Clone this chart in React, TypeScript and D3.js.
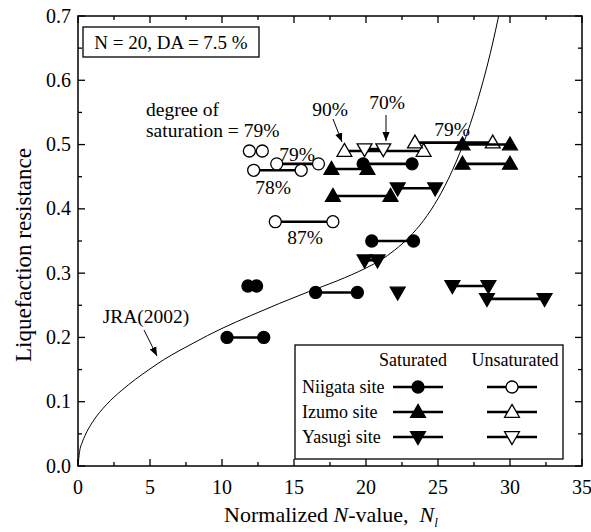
import React from 'react';
import * as d3 from 'd3';

const W = 591;
const H = 532;

const xTickValues = [0, 5, 10, 15, 20, 25, 30, 35];
const yTickValues = [0, 0.1, 0.2, 0.3, 0.4, 0.5, 0.6, 0.7];

// segments: [x1, x2, y]
const satNiigata: number[][] = [
  [10.35, 12.9, 0.2],
  [11.8, 12.4, 0.28],
  [16.5, 19.4, 0.27],
  [20.4, 23.3, 0.35],
  [19.8, 23.2, 0.47],
];
const satIzumo: number[][] = [
  [17.6, 20.1, 0.462],
  [17.7, 21.7, 0.42],
  [26.7, 30.0, 0.5],
  [26.7, 30.0, 0.47],
];
const satYasugi: number[][] = [
  [22.2, 24.8, 0.432],
  [19.9, 20.8, 0.32],
  [22.2, 22.2, 0.27],
  [26.0, 28.5, 0.28],
  [28.4, 32.4, 0.26],
];
const unsatNiigata: number[][] = [
  [11.9, 12.8, 0.49],
  [13.8, 16.7, 0.47],
  [12.2, 15.5, 0.46],
  [13.7, 17.7, 0.38],
];
const unsatIzumo: number[][] = [
  [18.5, 24.0, 0.49],
  [23.4, 28.8, 0.503],
];
const unsatYasugi: number[][] = [[19.9, 21.2, 0.493]];

// JRA(2002) reference curve
const jraX = [0, 0.1, 0.3, 0.5, 1, 2, 3, 4, 5, 6, 7, 8, 9, 10, 12, 14, 16, 18, 20, 21, 22, 23, 24, 25, 26, 27, 28, 28.5, 29, 29.4];
const jraY = [0, 0.021, 0.037, 0.048, 0.068, 0.096, 0.117, 0.135, 0.151, 0.166, 0.179, 0.191, 0.203, 0.214, 0.234, 0.253, 0.271, 0.288, 0.308, 0.32, 0.336, 0.356, 0.382, 0.416, 0.46, 0.516, 0.588, 0.63, 0.678, 0.72];

const FONT = '"Liberation Serif", "DejaVu Serif", serif';

const x = d3.scaleLinear().domain([0, 35]).range([78, 582]);
const y = d3.scaleLinear().domain([0, 0.7]).range([466, 16]);

type Shape = 'circle' | 'up' | 'down';

function Marker({ cx, cy, shape, filled }: { cx: number; cy: number; shape: Shape; filled: boolean }) {
  const fill = filled ? '#000' : '#fff';
  if (shape === 'circle') {
    return <circle cx={cx} cy={cy} r={6} fill={fill} stroke="#000" strokeWidth={1.3} />;
  }
  const p = d3.symbol().type(d3.symbolTriangle).size(95)() as string;
  return (
    <path
      d={p}
      transform={`translate(${cx},${cy + (shape === 'up' ? 1 : -1)}) rotate(${shape === 'down' ? 180 : 0})`}
      fill={fill}
      stroke="#000"
      strokeWidth={1.3}
    />
  );
}

function Segments({ data, shape, filled }: { data: number[][]; shape: Shape; filled: boolean }) {
  return (
    <g>
      {data.map((d, i) => (
        <line key={'l' + i} x1={x(d[0])} x2={x(d[1])} y1={y(d[2])} y2={y(d[2])} stroke="#000" strokeWidth={2.6} />
      ))}
      {data.map((d, i) => (
        <g key={'m' + i}>
          <Marker cx={x(d[0])} cy={y(d[2])} shape={shape} filled={filled} />
          {d[1] !== d[0] && <Marker cx={x(d[1])} cy={y(d[2])} shape={shape} filled={filled} />}
        </g>
      ))}
    </g>
  );
}

export default function App() {
  const x0 = x(0), x1 = x(35), yTop = y(0.7), yBot = y(0);
  const xMinor = d3.range(0, 35.01, 2.5);
  const yMinor = d3.range(0, 0.701, 0.05);
  const line = d3
    .line<number>()
    .x((_, i) => x(jraX[i]))
    .y((d) => y(d))
    .curve(d3.curveMonotoneX);
  const jraPath = line(jraY) as string;

  const legendRows: { label: string; shape: Shape }[] = [
    { label: 'Niigata site', shape: 'circle' },
    { label: 'Izumo site', shape: 'up' },
    { label: 'Yasugi site', shape: 'down' },
  ];

  return (
    <svg width={W} height={H} style={{ position: 'absolute', left: 0, top: 0, background: '#fff', fontFamily: FONT }}>
      <style>{`svg text { font-family: "Liberation Serif", "DejaVu Serif", serif; }`}</style>
      <defs>
        <clipPath id="plotclip">
          <rect x={x0} y={yTop} width={x1 - x0} height={yBot - yTop} />
        </clipPath>
        <marker id="arrow" viewBox="0 0 10 10" refX="10" refY="5" markerWidth="9" markerHeight="9" markerUnits="userSpaceOnUse" orient="auto">
          <path d="M0,1 L10,5 L0,9 z" fill="#000" />
        </marker>
      </defs>
      <rect width={W} height={H} fill="#fff" />

      {/* ticks */}
      <g stroke="#000" strokeWidth={1.3}>
        {xMinor.map((v, i) => {
          const len = i % 2 === 0 ? 7 : 4;
          return (
            <g key={'xt' + i}>
              <line x1={x(v)} x2={x(v)} y1={yBot} y2={yBot - len} />
              <line x1={x(v)} x2={x(v)} y1={yTop} y2={yTop + len} />
            </g>
          );
        })}
        {yMinor.map((v, i) => {
          const len = i % 2 === 0 ? 7 : 4;
          return (
            <g key={'yt' + i}>
              <line x1={x0} x2={x0 + len} y1={y(v)} y2={y(v)} />
              <line x1={x1} x2={x1 - len} y1={y(v)} y2={y(v)} />
            </g>
          );
        })}
      </g>

      {/* tick labels */}
      <g fontSize={20} fill="#000">
        {xTickValues.map((v) => (
          <text key={'xl' + v} x={x(v)} y={494} textAnchor="middle">
            {v}
          </text>
        ))}
        {yTickValues.map((v) => (
          <text key={'yl' + v} x={71} y={y(v) + 6.5} textAnchor="end">
            {v.toFixed(1)}
          </text>
        ))}
      </g>

      {/* axis titles */}
      <text x={331} y={522} textAnchor="middle" fontSize={22}>
        Normalized <tspan fontStyle="italic">N</tspan>-value,{'\u00a0\u00a0'}
        <tspan fontStyle="italic">N</tspan>
        <tspan fontStyle="italic" fontSize={13} dy={5}>l</tspan>
      </text>
      <text transform="translate(31,255) rotate(-90)" textAnchor="middle" fontSize={23}>
        Liquefaction resistance
      </text>

      {/* JRA curve */}
      <path d={jraPath} fill="none" stroke="#000" strokeWidth={1} clipPath="url(#plotclip)" />

      {/* annotations */}
      <g fontSize={19.5} fill="#000">
        <text x={146} y={116}>degree of</text>
        <text x={146} y={137}>saturation = 79%</text>
        <text x={297} y={161} textAnchor="middle">79%</text>
        <text x={273} y={194} textAnchor="middle">78%</text>
        <text x={305} y={244} textAnchor="middle">87%</text>
        <text x={330} y={116} textAnchor="middle">90%</text>
        <text x={387} y={109} textAnchor="middle">70%</text>
        <text x={452} y={136} textAnchor="middle">79%</text>
        <text x={146} y={323} textAnchor="middle">JRA(2002)</text>
      </g>
      <g stroke="#000" strokeWidth={1}>
        <line x1={333} y1={119} x2={342} y2={142} markerEnd="url(#arrow)" />
        <line x1={386} y1={115} x2={386} y2={141} markerEnd="url(#arrow)" />
        <line x1={144} y1={330} x2={157} y2={356} markerEnd="url(#arrow)" />
      </g>

      {/* data */}
      <Segments data={unsatNiigata} shape="circle" filled={false} />
      <Segments data={unsatIzumo} shape="up" filled={false} />
      <Segments data={unsatYasugi} shape="down" filled={false} />
      <Segments data={satNiigata} shape="circle" filled={true} />
      <Segments data={satIzumo} shape="up" filled={true} />
      <Segments data={satYasugi} shape="down" filled={true} />

      {/* frame */}
      <rect x={x0} y={yTop} width={x1 - x0} height={yBot - yTop} fill="none" stroke="#000" strokeWidth={1.5} />

      {/* condition box */}
      <rect x={83} y={27} width={176} height={30} fill="#fff" stroke="#000" strokeWidth={1.3} />
      <text x={171} y={49} textAnchor="middle" fontSize={19}>
        N = 20, DA = 7.5 %
      </text>

      {/* legend */}
      <g>
        <rect x={295} y={345} width={268} height={114} fill="#fff" stroke="#000" strokeWidth={1.3} />
        <text x={413} y={366} textAnchor="middle" fontSize={18}>Saturated</text>
        <text x={515} y={366} textAnchor="middle" fontSize={18}>Unsaturated</text>
        {legendRows.map((r, i) => {
          const cy = 387 + i * 25;
          return (
            <g key={r.label}>
              <text x={302} y={cy + 6} fontSize={18}>{r.label}</text>
              <line x1={393} x2={443} y1={cy} y2={cy} stroke="#000" strokeWidth={2.6} />
              <Marker cx={418} cy={cy} shape={r.shape} filled={true} />
              <line x1={487} x2={537} y1={cy} y2={cy} stroke="#000" strokeWidth={2.6} />
              <Marker cx={512} cy={cy} shape={r.shape} filled={false} />
            </g>
          );
        })}
      </g>
    </svg>
  );
}
